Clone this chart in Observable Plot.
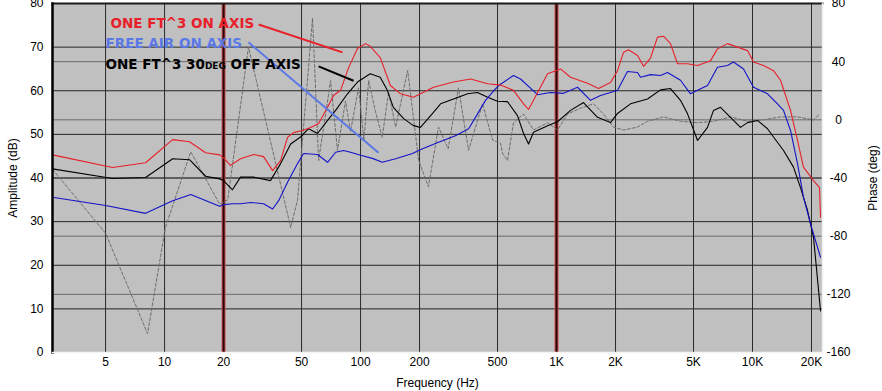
<!DOCTYPE html>
<html><head><meta charset="utf-8">
<script src="https://cdn.jsdelivr.net/npm/d3@7"></script>
<script src="https://cdn.jsdelivr.net/npm/@observablehq/plot@0.6"></script>
<style>body{margin:0;background:#fff}</style>
</head><body><div id="chart"></div>
<script>
// [frequency Hz, amplitude dB]
const redOnAxisBox = [[2.68,45.3],[5.43,42.4],[8.0,43.5],[11.0,48.8],[13.4,48.3],[16.2,45.8],[19.1,45.3],[20.0,44.6],[21.7,42.9],[24.4,44.4],[28.5,45.4],[32.0,44.9],[35.6,41.7],[39.1,44.0],[42.4,49.3],[45.5,50.4],[50.6,50.9],[55.6,51.6],[61.1,52.5],[67.9,56.2],[72.8,58.9],[79.1,60.1],[86.9,65.3],[96.5,69.7],[106,70.8],[112,70.2],[126,67.6],[142,61.2],[160,59.3],[186,58.5],[202,59.3],[236,60.8],[298,62.0],[364,62.7],[445,61.6],[518,61.3],[603,60.1],[679,57.0],[720,55.7],[763,57.8],[900,63.9],[1048,65.0],[1179,63.1],[1440,61.7],[1638,60.5],[1886,61.9],[2047,64.6],[2197,68.8],[2330,69.4],[2590,68.1],[2780,65.6],[3017,67.5],[3276,72.3],[3516,72.5],[3815,70.8],[4143,66.2],[4661,66.2],[5243,65.8],[6106,66.9],[6628,69.6],[7456,70.8],[8384,70.0],[9430,69.2],[10120,66.6],[11380,65.8],[12800,64.6],[13900,62.4],[15630,55.5],[16970,48.6],[18200,42.5],[20480,39.4],[21980,37.8],[22240,31.0]];
const blueFreeAir = [[2.68,35.6],[5.0,33.7],[8.0,31.9],[11.0,34.8],[13.6,36.2],[19.1,33.5],[20.0,33.9],[22.2,34.1],[24.4,34.1],[27.5,34.4],[32.0,34.1],[35.6,32.9],[38.2,34.8],[42.4,39.0],[47.7,43.3],[51.2,45.6],[60.3,45.4],[67.9,43.6],[74.6,45.9],[81.9,46.3],[88.9,45.9],[100,45.2],[115,44.5],[129,43.6],[151,44.4],[184,45.6],[207,46.7],[250,48.2],[305,49.7],[356,51.3],[386,53.9],[434,57.8],[489,60.5],[518,61.5],[603,63.5],[655,62.7],[800,59.1],[932,59.6],[1086,59.4],[1280,60.8],[1491,57.8],[1677,58.9],[1886,59.6],[2047,60.1],[2302,64.4],[2590,64.2],[2683,63.1],[3017,63.7],[3394,63.5],[3684,64.2],[4292,62.4],[4828,59.3],[5243,60.1],[5895,61.2],[6628,65.4],[7456,65.8],[8000,66.6],[8999,65.0],[10120,60.8],[11930,59.3],[13410,57.0],[14400,55.5],[15630,50.9],[16970,43.3],[18200,35.6],[19770,29.5],[22240,21.8]];
const black30Off = [[2.68,42.1],[5.43,39.9],[8.0,40.1],[11.0,44.4],[13.4,44.2],[16.2,40.4],[19.1,39.8],[20.0,39.4],[22.2,37.3],[24.4,40.2],[28.5,40.2],[34.7,39.4],[39.1,43.3],[44.0,47.8],[49.4,49.4],[54.3,51.3],[60.3,50.2],[67.9,53.2],[74.6,55.5],[85.8,59.3],[96.5,62.0],[112,63.9],[126,63.1],[137,60.1],[147,56.2],[166,53.6],[186,52.0],[202,51.6],[228,54.3],[256,57.0],[298,58.1],[352,59.3],[395,59.6],[445,58.5],[500,57.6],[562,57.5],[632,54.3],[679,50.2],[720,47.8],[763,50.5],[900,52.0],[1012,52.9],[1179,55.5],[1373,57.3],[1619,53.9],[1886,52.7],[2047,54.8],[2386,57.0],[2913,58.1],[3394,60.2],[3815,60.5],[4292,57.8],[4661,54.7],[5243,48.6],[5895,51.6],[6324,55.5],[6866,56.2],[7724,53.9],[8686,51.6],[9430,52.7],[10600,53.2],[11930,51.3],[12800,49.4],[14400,46.3],[16190,42.5],[17570,37.8],[19080,32.6],[20480,26.4],[22240,9.5]];
// [frequency Hz, phase deg]
const phaseDeg = [[2.68,-34],[5.0,-78],[8.19,-147],[10.1,-74],[13.6,-22],[19.1,-58],[21.0,-55],[26.8,50],[44.0,-74],[47.7,-55],[56.9,70],[61.1,-28],[67.9,13],[70.3,27],[76.3,-21],[83.8,13],[88.9,-8],[97.7,22],[104,-14],[110,27],[119,6],[129,-12],[139,19],[151,-5],[174,34],[198,-28],[222,-46],[250,-5],[280,-20],[316,22],[356,-21],[419,11],[472,-14],[518,-16],[530,-23],[562,-28],[603,-2],[679,4],[763,-7],[900,-2],[1012,-7],[1138,4],[1326,8],[1545,11],[1737,4],[1953,-5],[2197,-7],[2590,-5],[2913,-1],[3516,2],[4292,-1],[5243,-2],[6324,-1],[7724,2],[9430,-1],[11380,0],[13900,2],[16970,2],[20480,0],[21980,4]];

const xTicks = [5,10,20,50,100,200,500,1000,2000,5000,10000,20000];
const xTickLabels = ["5","10","20","50","100","200","500","1K","2K","5K","10K","20K"];
const dbTicks = [0,10,20,30,40,50,60,70,80];
const phaseTicks = [80,40,0,-40,-80,-120,-160];
const gridFreqs = [5,10,50,100,200,500,2000,5000,10000,20000];
const markerFreqs = [20,1000];
const xDomain = [2.68, 22760];

const labelText = ["ONE FT^3 ON AXIS","FREE AIR ON AXIS","ONE FT^3 30deg OFF AXIS"];
const labelFreq = [5.3, 5.0, 5.0];
const labelDb = [75.4, 70.8, 66.0];
const leaderFrom = [[30.2,75.2],[26.8,71.1],[61.1,65.6]];
const leaderTo = [[80.9,68.8],[123.5,45.8],[92.1,62.3]];
const labelColors = ["#e8202a","#5a78e6","#000000"];

const phaseToDb = p => (p + 160) / 3;
const annot = labelText.map((t,i) => ({t, f: labelFreq[i], v: labelDb[i], c: labelColors[i],
  x1: leaderFrom[i][0], y1: leaderFrom[i][1], x2: leaderTo[i][0], y2: leaderTo[i][1]}));
const xTickData = xTicks.map((f,i) => ({f, s: xTickLabels[i]}));

const chart = Plot.plot({
  width: 882, height: 391,
  marginLeft: 52, marginRight: 60, marginTop: 3, marginBottom: 39,
  style: {fontFamily: "'Liberation Sans', Arial, sans-serif", fontSize: "12px", background: "#fff", color: "#000"},
  x: {type: "log", domain: xDomain},
  y: {domain: [0, 80]},
  marks: [
    Plot.frame({fill: "#c0c0c0"}),
    Plot.ruleY(phaseTicks.map(phaseToDb), {stroke: "#6a6a6a", strokeWidth: 1}),
    Plot.ruleY(dbTicks, {stroke: "#262626", strokeWidth: 1}),
    Plot.ruleX(gridFreqs, {stroke: "#2a2a2a", strokeWidth: 1}),
    Plot.ruleX(markerFreqs, {stroke: "#c85050", strokeWidth: 4}),
    Plot.ruleX(markerFreqs, {stroke: "#2a0505", strokeWidth: 2}),
    Plot.line(phaseDeg, {x: d => d[0], y: d => phaseToDb(d[1]), stroke: "#6e6e6e", strokeWidth: 1, strokeDasharray: "3,2", clip: true}),
    Plot.line(black30Off, {x: d => d[0], y: d => d[1], stroke: "#000000", strokeWidth: 1.1, clip: true}),
    Plot.line(blueFreeAir, {x: d => d[0], y: d => d[1], stroke: "#1414c8", strokeWidth: 1.1, clip: true}),
    Plot.line(redOnAxisBox, {x: d => d[0], y: d => d[1], stroke: "#e8202a", strokeWidth: 1.1, clip: true}),
    Plot.frame({anchor: "top", stroke: "#1a1a1a", strokeWidth: 2}),
    Plot.frame({anchor: "left", stroke: "#000", strokeWidth: 2.5}),
    Plot.frame({anchor: "bottom", stroke: "#f4f4f4", strokeWidth: 1.5}),
    Plot.frame({anchor: "right", stroke: "#f0f0f0", strokeWidth: 1.5}),
    Plot.link(annot, {x1: "x1", y1: "y1", x2: "x2", y2: "y2", stroke: "c", strokeWidth: 2}),
    Plot.text(annot, {x: "f", y: "v", text: "t", fill: "c", textAnchor: "start", lineAnchor: "middle",
      fontFamily: "'DejaVu Sans', sans-serif", fontWeight: "bold", fontSize: 13.5, fontVariant: "small-caps"}),
    Plot.text(xTickData, {x: "f", text: "s", frameAnchor: "bottom", lineAnchor: "top", dy: 5, fill: "#000"}),
    Plot.axisX({ticks: [], tickSize: 0,
      label: "Frequency (Hz)", labelAnchor: "center", labelOffset: 34, labelArrow: "none"}),
    Plot.axisY({anchor: "left", ticks: dbTicks, tickSize: 0, tickPadding: 9,
      label: "Amplitude (dB)", labelAnchor: "center", labelOffset: 44, labelArrow: "none"}),
    Plot.axisY({anchor: "right", ticks: phaseTicks.map(phaseToDb), tickFormat: d => String(Math.round(3 * d - 160)),
      tickSize: 0, tickPadding: 16, textAnchor: "middle",
      label: "Phase (deg)", labelAnchor: "center", labelOffset: 54, labelArrow: "none"})
  ]
});
document.getElementById("chart").appendChild(chart);
</script>
</body></html>
